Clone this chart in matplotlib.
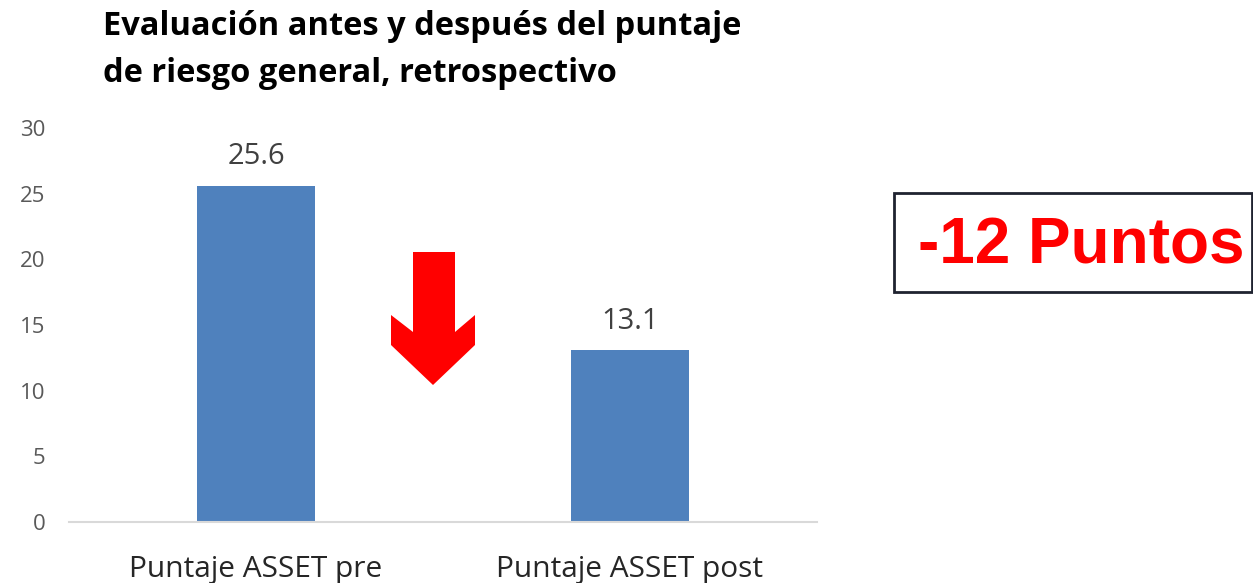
import matplotlib.pyplot as plt
from matplotlib.patches import Polygon, Rectangle

categorias = ['Puntaje ASSET pre', 'Puntaje ASSET post']
puntajes = [25.6, 13.1]
etiquetas_y = [0, 5, 10, 15, 20, 25, 30]
titulo = 'Evaluación antes y después del puntaje\nde riesgo general, retrospectivo'
texto_caja = '-12 Puntos'

W, H = 1253, 583
fig = plt.figure(figsize=(W / 100, H / 100), dpi=100)

# ejes en pixeles de la imagen de referencia
x0, x1, y_base, y_top = 69, 817, 522, 128
ax = fig.add_axes([x0 / W, 1 - y_base / H, (x1 - x0) / W, (y_base - y_top) / H])

pos = range(len(categorias))
barras = ax.bar(pos, puntajes, width=0.316, color='#4F81BD')
for b, v in zip(barras, puntajes):
    ax.text(b.get_x() + b.get_width() / 2, v + 1.1, f'{v:.1f}', ha='center', va='bottom',
            fontsize=21, color='#404040', family='Open Sans')

ax.set_xlim(-0.5, 1.5)
ax.set_ylim(0, 30)
ax.set_yticks(etiquetas_y)
ax.set_yticklabels([str(v) for v in etiquetas_y], family='Open Sans', fontsize=16, color='#595959')
ax.set_xticks(list(pos))
ax.set_xticklabels(categorias, family='Open Sans', fontsize=21.5, color='#262626')
ax.tick_params(axis='y', length=0, pad=17)
ax.tick_params(axis='x', length=0, pad=24)
for s in ['top', 'right', 'left']:
    ax.spines[s].set_visible(False)
ax.spines['bottom'].set_color('#D9D9D9')
ax.spines['bottom'].set_linewidth(1.5)

fig.text(103 / W, 1 - 10 / H, titulo, ha='left', va='top', fontsize=23.5, fontweight='bold',
         family='Open Sans', color='black', linespacing=1.55)

# flecha roja
flecha = [(413, 252), (455, 252), (455, 332), (475, 315), (475, 345), (433, 385),
          (391, 345), (391, 315), (413, 332)]
fig.patches.append(Polygon([(px / W, 1 - py / H) for px, py in flecha], closed=True,
                           transform=fig.transFigure, facecolor='#FF0000', edgecolor='none'))

# caja con texto
fig.patches.append(Rectangle((894 / W, 1 - 292 / H), (1252 - 894) / W, (292 - 193) / H,
                             transform=fig.transFigure, facecolor='white',
                             edgecolor='#1F2330', linewidth=2))
fig.text(1081 / W, 1 - 246 / H, texto_caja, ha='center', va='center', fontsize=46,
         fontweight='bold', family='Liberation Sans', color='#FF0000')

fig.savefig('out.png', dpi=100)
